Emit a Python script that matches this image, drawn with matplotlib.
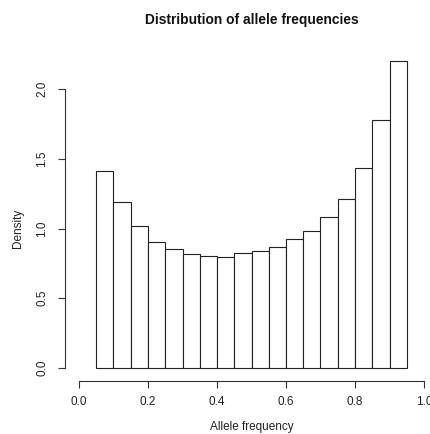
import matplotlib
matplotlib.use("Agg")
import matplotlib.pyplot as plt
import numpy as np

plt.rcParams['font.family'] = ['Liberation Sans', 'DejaVu Sans']

breaks = [0.05, 0.10, 0.15, 0.20, 0.25, 0.30, 0.35, 0.40, 0.45, 0.50,
          0.55, 0.60, 0.65, 0.70, 0.75, 0.80, 0.85, 0.90, 0.95]
density = [1.41, 1.19, 1.02, 0.905, 0.855, 0.815, 0.805, 0.797, 0.822,
           0.841, 0.869, 0.922, 0.984, 1.08, 1.212, 1.432, 1.779, 2.201]
xticks = [0.0, 0.2, 0.4, 0.6, 0.8, 1.0]
xticklabels = ["0.0", "0.2", "0.4", "0.6", "0.8", "1.0"]
yticks = [0.0, 0.5, 1.0, 1.5, 2.0]
yticklabels = ["0.0", "0.5", "1.0", "1.5", "2.0"]

W, H = 431, 434
fig = plt.figure(figsize=(W / 100, H / 100), dpi=100)

# pixel geometry (R plot region)
x0_px, x1_px = 79.0, 424.0      # data 0 and 1
y0_px, y2_px = 367.7, 89.3      # data 0 and 2
xl, xr = -0.04, 1.04
ppx = (x1_px - x0_px)
ppy = (y0_px - y2_px) / 2.0
yb, yt = -0.093, 2.30
left_px = x0_px + xl * ppx
right_px = x0_px + xr * ppx
bot_px = y0_px - yb * ppy
top_px = y0_px - yt * ppy
ax = fig.add_axes([left_px / W, 1 - bot_px / H, (right_px - left_px) / W,
                   (bot_px - top_px) / H])
ax.set_xlim(xl, xr)
ax.set_ylim(yb, yt)

edges = np.array(breaks)
ax.bar(edges[:-1], density, width=np.diff(edges), align='edge',
       facecolor='white', edgecolor='#222222', linewidth=0.8)

for s in ['top', 'right']:
    ax.spines[s].set_visible(False)
ax.spines['left'].set_bounds(0, 2)
ax.spines['bottom'].set_bounds(0, 1)
for s in ['left', 'bottom']:
    ax.spines[s].set_color('#333333')
    ax.spines[s].set_linewidth(0.8)

ax.set_xticks(xticks)
ax.set_xticklabels(xticklabels)
ax.set_yticks(yticks)
ax.set_yticklabels(yticklabels, rotation=90, va='center')
ax.tick_params(axis='x', length=4.7, width=0.8, color='#333333', pad=6.5,
               labelsize=8.5, labelcolor='#222222')
ax.tick_params(axis='y', length=5.2, width=0.8, color='#333333', pad=7,
               labelsize=8.5, labelcolor='#222222')

fig.text((left_px + right_px) / 2 / W, 1 - 20 / H,
         "Distribution of allele frequencies", ha='center', va='center',
         fontsize=9.9, fontweight='bold', color='#111111')
fig.text((left_px + right_px) / 2 / W, 1 - 427 / H, "Allele frequency",
         ha='center', va='center', fontsize=8.5, color='#222222')
fig.text(18 / W, 1 - 228 / H, "Density", ha='center', va='center',
         rotation=90, fontsize=8.5, color='#222222')

fig.savefig("out.png", dpi=100)
